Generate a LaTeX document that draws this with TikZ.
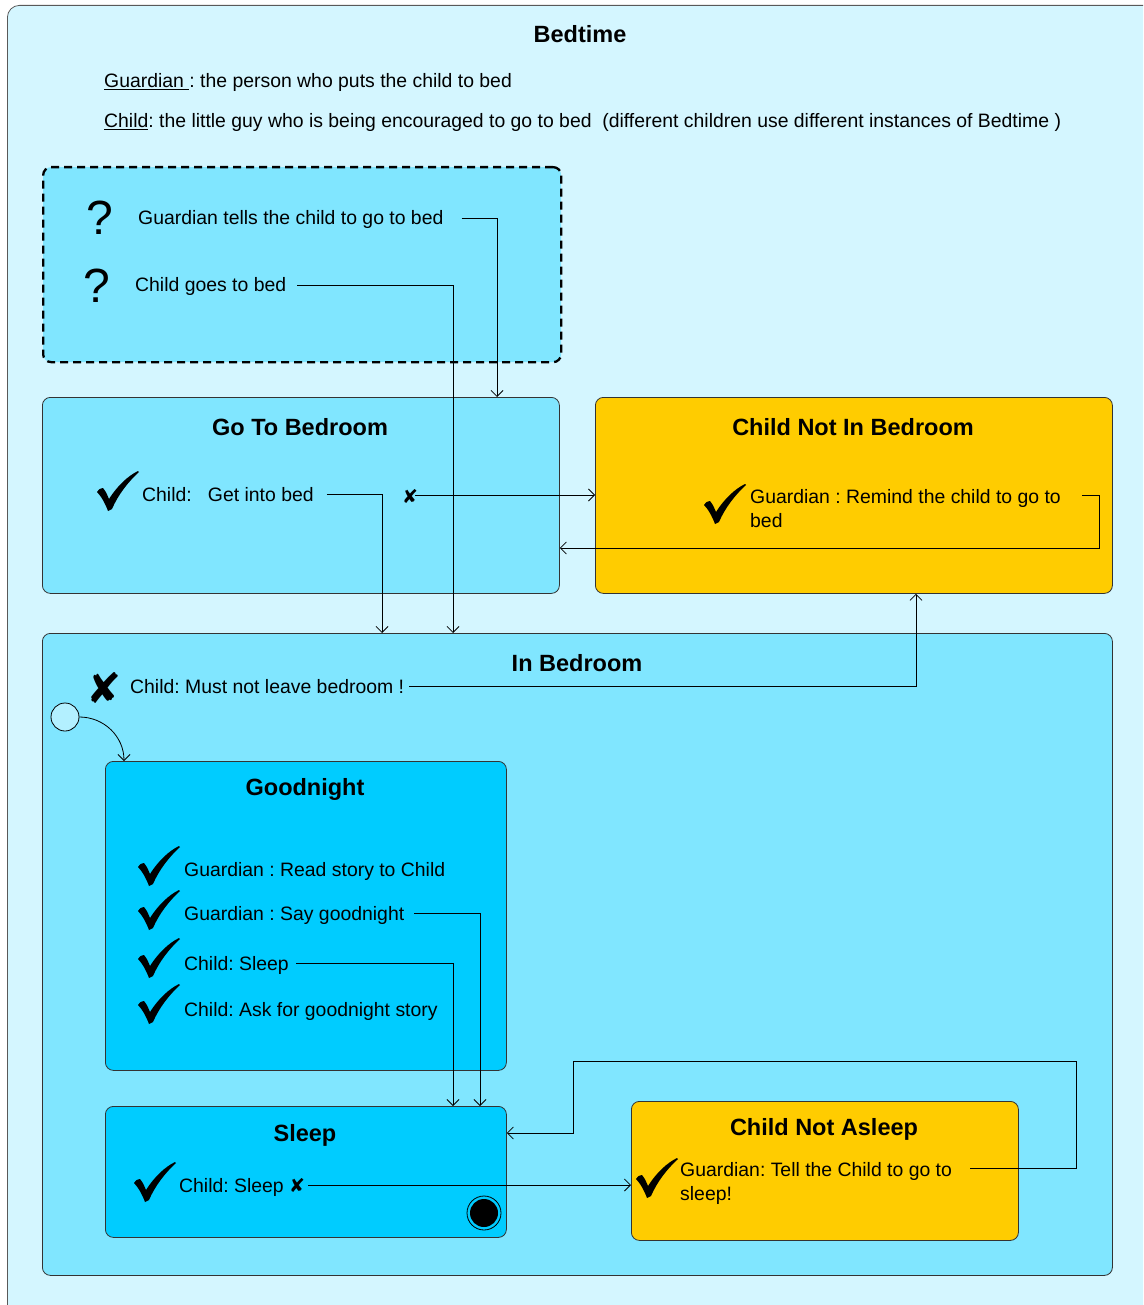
\documentclass[tikz,border=0pt]{standalone}
\usepackage{fontspec}
\setmainfont{Liberation Sans}
\newfontfamily\symfont{DejaVu Sans}
\usetikzlibrary{arrows.meta,calc}
\definecolor{bgout}{HTML}{D4F6FF}
\definecolor{boxa}{HTML}{80E6FF}
\definecolor{boxb}{HTML}{00CCFF}
\definecolor{boxy}{HTML}{FFCC00}
\definecolor{initc}{HTML}{B3F0FF}
\frenchspacing
\begin{document}
\begin{tikzpicture}[x=1pt,y=-1pt,
  statebox/.style={draw=black!80, rounded corners=8pt, anchor=north west, inner sep=0pt, line width=0.8pt},
  body/.style={font=\fontsize{19.4}{24}\selectfont, inner sep=0pt, anchor=base west},
  ttl/.style={font=\fontsize{23.5}{28}\selectfont\bfseries, inner sep=0pt},
  xmk/.style={font=\symfont\fontsize{19}{19}\selectfont, inner sep=0pt},
  bigx/.style={font=\symfont\fontsize{42}{42}\selectfont, inner sep=0pt},
  qm/.style={font=\fontsize{48}{48}\selectfont, inner sep=0pt},
  arr/.style={draw=black, line width=0.8pt, -{Straight Barb[length=6pt,width=12pt]}},
  ck/.pic={\fill[black] (-21,1) .. controls (-19,-2) .. (-15,-3) .. controls (-12,1) .. (-9,8)
     .. controls (0,-6) and (10,-15) .. (20,-20) -- (21,-19)
     .. controls (10,-9) and (0,4) .. (-6,18) -- (-10,20)
     .. controls (-13,12) and (-17,5) .. (-21,1) -- cycle;},
]
\clip (0,0) rectangle (1143,1305);
\fill[white] (0,0) rectangle (1143,1305);
% outer frame
\node[statebox, draw=black!65, fill=bgout, rounded corners=12pt, minimum width=1153pt, minimum height=1315pt] (bed) at (7,5) {};
\node[ttl] (bedt) at (580,34) {Bedtime};
\node[body] (h1) at (104,88) {\underline{Guardian\ }: the person who puts the child to bed};
\node[body] (h2) at (104,128) {\underline{Child}: the little guy who is being encouraged to go to bed\ \ (different children use different instances of Bedtime )};

% dashed box
\node[statebox, draw=black, dash pattern=on 8pt off 5pt, line width=2.3pt, fill=boxa, minimum width=518pt, minimum height=195pt] (dbox) at (42,166) {};
\node[qm] (q1) at (100,218) {?};
\node[body] (t1) at (138,225) {Guardian tells the child to go to bed};
\node[qm] (q2) at (97,286) {?};
\node[body] (t2) at (135,292) {Child goes to bed};

% Go To Bedroom
\node[statebox, fill=boxa, minimum width=517pt, minimum height=196pt] (gtb) at (42,397) {};
\node[ttl] (gtbt) at (300,427) {Go To Bedroom};
\pic (c1) at (118,491) {ck};
\node[body] (t3) at (142,501) {Child:\ \ \ Get into bed};
\node[xmk] (x1) at (410,496) {✘};

% Child Not In Bedroom
\node[statebox, fill=boxy, minimum width=517pt, minimum height=196pt] (cnb) at (595,397) {};
\node[ttl] (cnbt) at (853,427) {Child Not In Bedroom};
\pic (c2) at (725,504) {ck};
\node[body, anchor=north west, align=left] (t4) at (750,489) {Guardian : Remind the child to go to\\bed};

% In Bedroom
\node[statebox, fill=boxa, minimum width=1070pt, minimum height=642pt] (ib) at (42,633) {};
\node[ttl] (ibt) at (577,663) {In Bedroom};
\node[bigx] (x2) at (104,688) {✘};
\node[body] (t5) at (130,693) {Child: Must not leave bedroom !};
\node[circle, draw=black, line width=0.8pt, fill=initc, minimum size=28pt, inner sep=0pt] (init) at (65,717) {};

% Goodnight
\node[statebox, fill=boxb, minimum width=401pt, minimum height=309pt] (gn) at (105,761) {};
\node[ttl] (gnt) at (305,789) {Goodnight};
\pic (c3) at (159,866) {ck};
\node[body] (t6) at (184,876) {Guardian : Read story to Child};
\pic (c4) at (159,910) {ck};
\node[body] (t7) at (184,920) {Guardian : Say goodnight};
\pic (c5) at (159,958) {ck};
\node[body] (t8) at (184,970) {Child: Sleep};
\pic (c6) at (159,1004) {ck};
\node[body] (t9) at (184,1016) {Child: Ask for goodnight story};

% Sleep
\node[statebox, fill=boxb, minimum width=401pt, minimum height=131pt] (sl) at (105,1106) {};
\node[ttl] (slt) at (305,1135) {Sleep};
\pic (c7) at (155,1182) {ck};
\node[body] (t10) at (179,1192) {Child: Sleep};
\node[xmk] (x3) at (297,1185) {✘};
\node[circle, draw=black, line width=0.8pt, fill=boxb, minimum size=34pt, inner sep=0pt] (fin) at (484,1213) {};
\node[circle, fill=black, minimum size=28pt, inner sep=0pt] (finin) at (fin) {};

% Child Not Asleep
\node[statebox, fill=boxy, minimum width=387pt, minimum height=139pt] (cna) at (631,1101) {};
\node[ttl] (cnat) at (824,1129) {Child Not Asleep};
\pic (c8) at (657,1178) {ck};
\node[body, anchor=north west, align=left] (t11) at (680,1162) {Guardian: Tell the Child to go to\\sleep!};

% connectors
\draw[arr] ($(t1.base east)+(18,-7)$) -| ($(gtb.north west)+(455,0)$);
\draw[arr] ($(t2.base east)+(11,-7)$) -| ($(ib.north west)+(411,0)$);
\draw[arr] ($(t3.base east)+(13,-7)$) -| ($(ib.north west)+(340,0)$);
\draw[arr] ($(cnb.north west)+(-180,98)$) -- ($(cnb.north west)+(0,98)$);
\draw[arr] ($(cnb.north west)+(487,98)$) -- ++(17,0) -- ++(0,53) -- ($(gtb.north east)+(0,151)$);
\draw[arr] ($(t5.base east)+(5,-7)$) -| ($(cnb.south west)+(321,0)$);
\draw[arr] (init.east) to[out=0,in=90] ($(gn.north west)+(19,0)$);
\draw[arr] ($(t7.base east)+(10,-7)$) -| ($(sl.north west)+(375,0)$);
\draw[arr] ($(t8.base east)+(7,-7)$) -| ($(sl.north west)+(348,0)$);
\draw[arr] ($(x3.east)+(3,0)$) -- ($(cna.north west)+(0,84)$);
\draw[arr] ($(cna.north west)+(339,67)$) -- ++(106,0) -- ++(0,-107) -- ++(-503,0) -- ++(0,72) -- ($(sl.north east)+(0,27)$);
\end{tikzpicture}
\end{document}
